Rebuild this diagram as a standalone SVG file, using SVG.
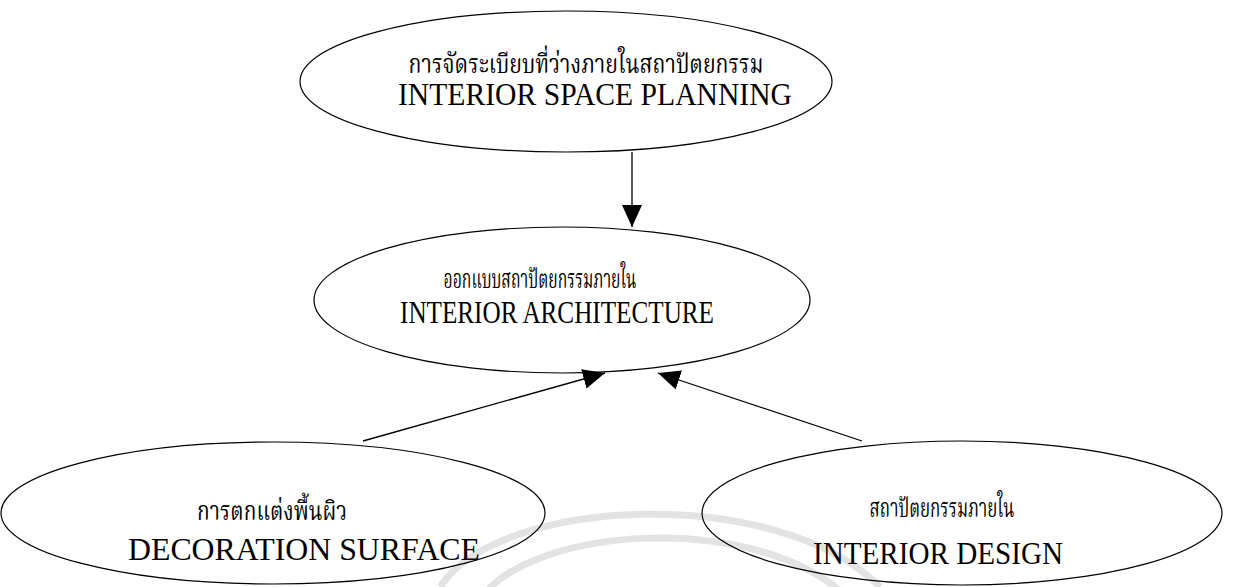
<svg xmlns="http://www.w3.org/2000/svg" width="1256" height="587" viewBox="0 0 1256 587">
<defs>
<style>
.node ellipse{fill:none;stroke:#000;stroke-width:1.2}
.th{font-family:"Liberation Serif","Noto Serif Thai","Noto Sans Thai",serif;font-size:26px;fill:#000;text-anchor:middle}
.en{font-family:"Liberation Serif","Times New Roman",serif;font-size:32px;fill:#000;text-anchor:middle}
.conn line{stroke:#000;stroke-width:1.3}
.wm{fill:none;stroke:#e3e3e3;stroke-width:7}
</style>
<marker id="ah" viewBox="0 0 22 20" refX="22" refY="10" markerWidth="22" markerHeight="20" markerUnits="userSpaceOnUse" orient="auto">
<path d="M0 0 L22 10 L0 20 Z" fill="#000"/>
</marker>
</defs>
<rect width="1256" height="587" fill="#fff"/>
<g id="watermark">
<path class="wm" d="M440 587 C500 495 780 485 880 587"/>
<path class="wm" d="M480 600 C530 525 760 510 850 600"/>
</g>
<g id="connectors" class="conn">
<line x1="632" y1="152" x2="632" y2="227" marker-end="url(#ah)"/>
<line x1="363" y1="441" x2="605" y2="373" marker-end="url(#ah)"/>
<line x1="862" y1="441" x2="658" y2="373" marker-end="url(#ah)"/>
</g>
<g id="node-planning" class="node">
<ellipse cx="566" cy="81.5" rx="266" ry="70.5"/>
<text class="th" x="586" y="73" textLength="355" lengthAdjust="spacingAndGlyphs">การจัดระเบียบที่ว่างภายในสถาปัตยกรรม</text>
<text class="en" x="595" y="105" textLength="394" lengthAdjust="spacingAndGlyphs">INTERIOR SPACE PLANNING</text>
</g>
<g id="node-architecture" class="node">
<ellipse cx="562" cy="300" rx="248" ry="73"/>
<text class="th" x="540" y="288" textLength="193" lengthAdjust="spacingAndGlyphs">ออกแบบสถาปัตยกรรมภายใน</text>
<text class="en" x="557" y="323" textLength="314" lengthAdjust="spacingAndGlyphs">INTERIOR ARCHITECTURE</text>
</g>
<g id="node-decoration" class="node">
<ellipse cx="273" cy="513" rx="272" ry="71"/>
<text class="th" x="272" y="520" textLength="150" lengthAdjust="spacingAndGlyphs">การตกแต่งพื้นผิว</text>
<text class="en" x="304" y="560" textLength="352" lengthAdjust="spacingAndGlyphs">DECORATION SURFACE</text>
</g>
<g id="node-design" class="node">
<ellipse cx="962" cy="513" rx="260" ry="72"/>
<text class="th" x="942" y="517" textLength="145" lengthAdjust="spacingAndGlyphs">สถาปัตยกรรมภายใน</text>
<text class="en" x="938" y="564" textLength="250" lengthAdjust="spacingAndGlyphs">INTERIOR DESIGN</text>
</g>
</svg>
